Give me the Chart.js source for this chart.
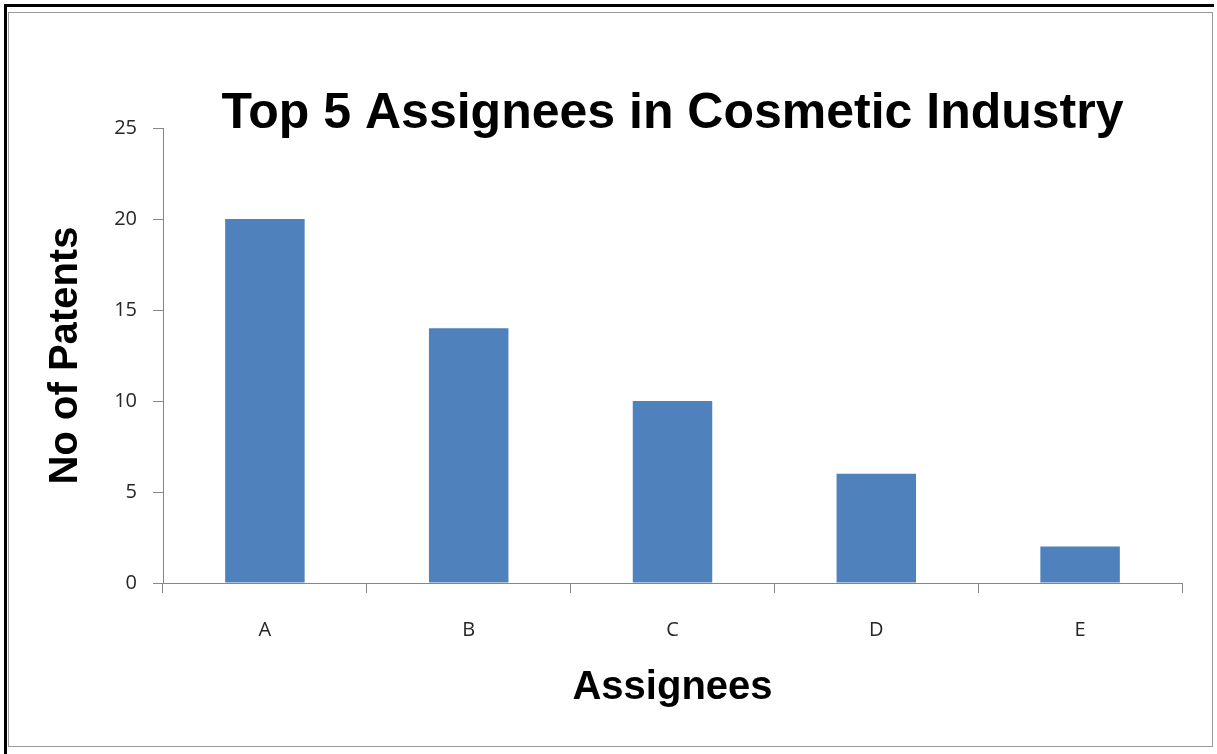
<!DOCTYPE html>
<html>
<head>
<meta charset="utf-8">
<title>Top 5 Assignees in Cosmetic Industry</title>
<script src="https://cdn.jsdelivr.net/npm/chart.js@4.4.1/dist/chart.umd.min.js"></script>
<style>
  html, body { margin: 0; padding: 0; background: #fff; }
  #wrap { position: relative; width: 1217px; height: 754px; overflow: hidden; }
  /* frame of the picture: black top/left edge, gray chart box */
  #edgeTop { position: absolute; left: 4px; top: 4px; width: 1210px; height: 3px; background: #000; }
  #edgeLeft { position: absolute; left: 4px; top: 4px; width: 3px; height: 750px; background: #000; }
  #box { position: absolute; left: 8px; top: 12px; width: 1203px; height: 733px; border: 1px solid #9a9a9a; }
  #chart-holder { position: absolute; left: 0; top: 0; width: 1217px; height: 754px; }
</style>
</head>
<body>
<div id="wrap">
  <div id="edgeTop"></div>
  <div id="edgeLeft"></div>
  <div id="box"></div>
  <div id="chart-holder"><canvas id="chart"></canvas></div>
</div>
<script>
"use strict";

// data
const assignees = ["A", "B", "C", "D", "E"];
const patentCounts = [20, 14, 10, 6, 2];
const yTicks = [0, 5, 10, 15, 20, 25];

const axisGray = "#868686";
const tickFont = { family: "'Open Sans', 'Noto Sans', sans-serif", size: 20 };
const boldFamily = "'Liberation Sans', Arial, sans-serif";

const data = {
    labels: assignees,
    datasets: [
        {
            label: "No of Patents",
            data: patentCounts,
            backgroundColor: "#4F81BD",
            borderWidth: 0,
            barPercentage: 0.39,
            categoryPercentage: 1.0
        }
    ]
};

const config = {
    type: "bar",
    data: data,
    options: {
        responsive: true,
        maintainAspectRatio: false,
        animation: false,
        layout: { padding: { top: 0, left: 10, right: 35, bottom: 10 } },
        plugins: {
            legend: { display: false },
            tooltip: { enabled: false },
            title: {
                display: true,
                text: "Top 5 Assignees in Cosmetic Industry",
                fullSize: false,
                color: "#000",
                font: { family: boldFamily, size: 50, weight: "bold", lineHeight: 1 },
                padding: { top: 89, bottom: -11 }
            }
        },
        scales: {
            x: {
                grid: {
                    offset: true,
                    drawOnChartArea: false,
                    drawTicks: true,
                    tickLength: 10,
                    color: axisGray
                },
                border: { color: axisGray, width: 1 },
                ticks: { color: "#262626", font: tickFont, padding: 25 },
                title: {
                    display: true,
                    text: "Assignees",
                    color: "#000",
                    font: { family: boldFamily, size: 40, weight: "bold", lineHeight: 1.2 },
                    padding: { top: 0, bottom: 32 }
                },
                afterFit: function (scale) { scale.height = 161; }
            },
            y: {
                min: 0,
                max: 25,
                afterBuildTicks: function (scale) {
                    scale.ticks = yTicks.map(function (v) { return { value: v }; });
                },
                grid: {
                    drawOnChartArea: false,
                    drawTicks: true,
                    tickLength: 10,
                    color: axisGray
                },
                border: { color: axisGray, width: 1 },
                ticks: { color: "#262626", font: tickFont, padding: 16 },
                title: {
                    display: true,
                    text: "No of Patents",
                    color: "#000",
                    font: { family: boldFamily, size: 40, weight: "bold", lineHeight: 1 },
                    padding: { top: 36, bottom: 0 }
                },
                afterFit: function (scale) { scale.width = 153; }
            }
        }
    }
};

const chartCanvas = document.getElementById("chart");
const myChart = new Chart(chartCanvas, config);
</script>
</body>
</html>
